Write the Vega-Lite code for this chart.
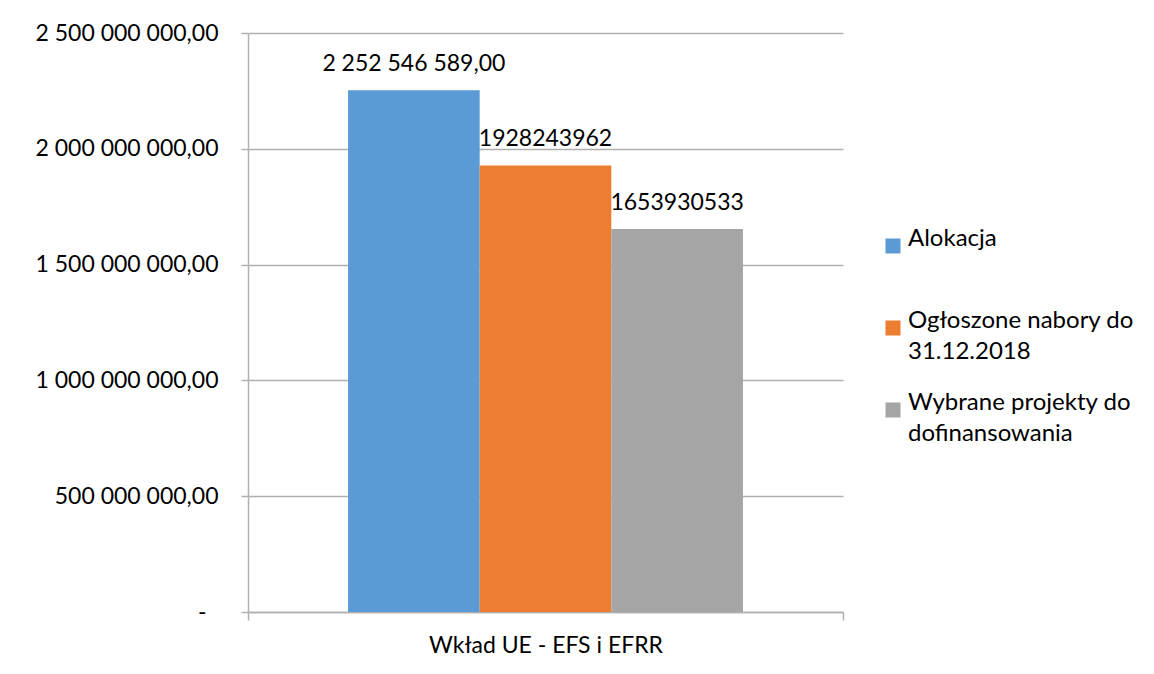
{
  "$schema": "https://vega.github.io/schema/vega-lite/v6.json",
  "width": 595,
  "height": 579,
  "autosize": {"type": "none"},
  "padding": {"left": 248, "top": 33, "right": 311, "bottom": 62},
  "background": "white",
  "data": {
    "values": [
      {"kategoria": "Wkład UE - EFS i EFRR", "seria": "Alokacja", "wartosc": 2252546589, "etykieta": "2 252 546 589,00"},
      {"kategoria": "Wkład UE - EFS i EFRR", "seria": "Ogłoszone nabory do 31.12.2018", "wartosc": 1928243962, "etykieta": "1928243962"},
      {"kategoria": "Wkład UE - EFS i EFRR", "seria": "Wybrane projekty do dofinansowania", "wartosc": 1653930533, "etykieta": "1653930533"}
    ]
  },
  "encoding": {
    "x": {
      "field": "kategoria",
      "type": "nominal",
      "scale": {"paddingInner": 0, "paddingOuter": 0},
      "axis": {
        "title": null,
        "tickBand": "extent",
        "tickSize": 8,
        "tickColor": "#b0b0b0",
        "tickWidth": 1.5,
        "domainColor": "#b0b0b0",
        "domainWidth": 1.5,
        "labelAngle": 0,
        "labelBaseline": "top",
        "labelPadding": 14,
        "labelFontSize": 23,
        "labelLimit": 500,
        "grid": false
      }
    },
    "xOffset": {
      "field": "seria",
      "type": "nominal",
      "sort": ["Alokacja", "Ogłoszone nabory do 31.12.2018", "Wybrane projekty do dofinansowania"],
      "scale": {"paddingInner": 0, "paddingOuter": 0.76}
    },
    "y": {
      "field": "wartosc",
      "type": "quantitative",
      "scale": {"domain": [0, 2500000000], "nice": false},
      "axis": {
        "title": null,
        "values": [0, 500000000, 1000000000, 1500000000, 2000000000, 2500000000],
        "labelExpr": "datum.value == 0 ? '-' : format(datum.value, ',.2f')",
        "tickSize": 7,
        "tickColor": "#b0b0b0",
        "tickWidth": 1.5,
        "domainColor": "#b0b0b0",
        "domainWidth": 1.5,
        "gridColor": "#b0b0b0",
        "gridWidth": 1.5,
        "labelPadding": {"condition": {"test": "datum.value == 0", "value": 35}, "value": 23},
        "labelFontSize": 23,
        "labelLimit": 400
      }
    }
  },
  "layer": [
    {
      "mark": {"type": "bar"},
      "encoding": {
        "color": {
          "field": "seria",
          "type": "nominal",
          "scale": {
            "domain": ["Alokacja", "Ogłoszone nabory do 31.12.2018", "Wybrane projekty do dofinansowania"],
            "range": ["#5B9BD5", "#ED7D31", "#A5A5A5"]
          },
          "legend": {
            "title": null,
            "orient": "none",
            "legendX": 633,
            "legendY": 201,
            "padding": 0,
            "gridAlign": "all",
            "rowPadding": 27,
            "symbolType": "square",
            "symbolSize": 225,
            "symbolStrokeWidth": 0,
            "labelBaseline": "alphabetic",
            "labelFontSize": 24,
            "labelOffset": 3,
            "labelLimit": 400,
            "labelExpr": "datum.label == 'Ogłoszone nabory do 31.12.2018' ? ['Ogłoszone nabory do', '31.12.2018'] : datum.label == 'Wybrane projekty do dofinansowania' ? ['Wybrane projekty do', 'dofinansowania'] : datum.label"
          }
        }
      }
    },
    {
      "mark": {"type": "text", "baseline": "alphabetic", "align": "center", "dy": -19, "fontSize": 23, "color": "#000000"},
      "encoding": {
        "text": {"field": "etykieta", "type": "nominal"}
      }
    }
  ],
  "config": {
    "locale": {"number": {"decimal": ",", "thousands": " ", "grouping": [3], "currency": ["", ""]}},
    "font": "Lato",
    "view": {"stroke": null},
    "axis": {"labelColor": "#000000", "labelFont": "Lato"},
    "legend": {"labelColor": "#000000", "labelFont": "Lato"},
    "style": {"guide-label": {"lineHeight": 31}}
  }
}
